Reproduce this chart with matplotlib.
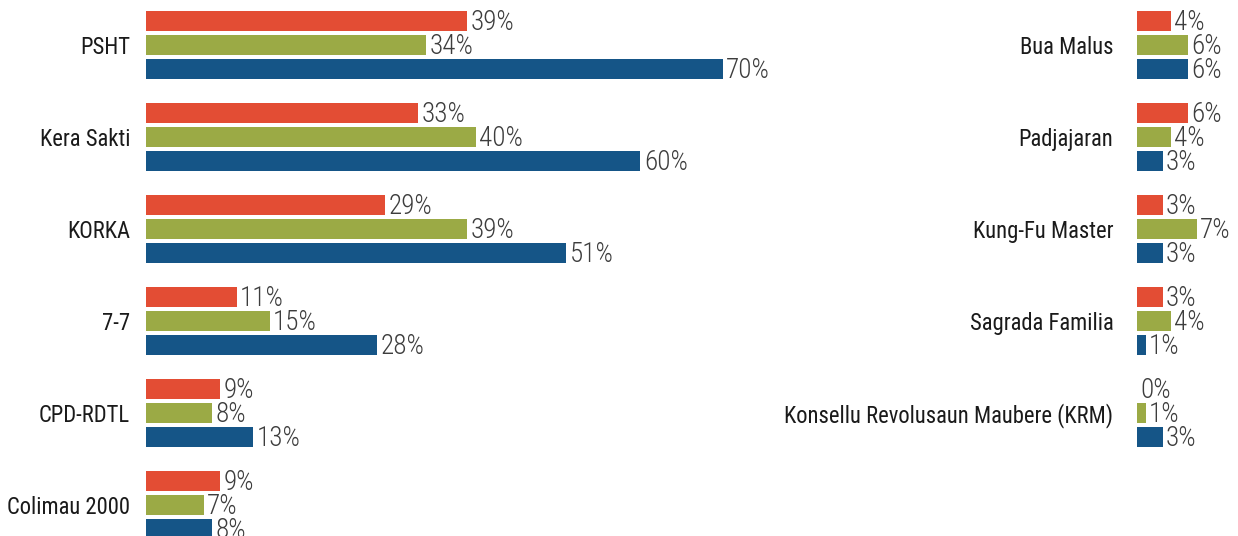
import os
import matplotlib
matplotlib.use("Agg")
import matplotlib.pyplot as plt
import matplotlib.font_manager as fm
import numpy as np

# left panel
left_groups = ["PSHT", "Kera Sakti", "KORKA", "7-7", "CPD-RDTL", "Colimau 2000"]
left_red = [39, 33, 29, 11, 9, 9]
left_green = [34, 40, 39, 15, 8, 7]
left_blue = [70, 60, 51, 28, 13, 8]

# right panel
right_groups = ["Bua Malus", "Padjajaran", "Kung-Fu Master", "Sagrada Familia",
                "Konsellu Revolusaun Maubere (KRM)"]
right_red = [4, 6, 3, 3, 0]
right_green = [6, 4, 7, 4, 1]
right_blue = [6, 3, 3, 1, 3]

colors = ['#E34D34', '#9BAA45', '#155587']


# the original uses a condensed face, look for one on the system
def pick(patterns):
    files = [f.fname for f in fm.fontManager.ttflist]
    for pat in patterns:
        for fn in files:
            if os.path.basename(fn).lower().startswith(pat.lower()):
                return fn
    return None


label_file = pick(['NotoSans-ExtraCondensedMedium.', 'NotoSans-ExtraCondensed.',
                   'NotoSans-CondensedMedium.', 'NotoSans-Condensed.',
                   'RobotoCondensed-Regular', 'LiberationSansNarrow-Regular',
                   'DejaVuSansCondensed.'])
value_file = pick(['NotoSans-ExtraCondensedLight.', 'NotoSans-ExtraCondensed.',
                   'NotoSans-CondensedLight.', 'NotoSans-Condensed.',
                   'RobotoCondensed-Light', 'LiberationSansNarrow-Regular',
                   'DejaVuSansCondensed.'])

if label_file:
    label_font = fm.FontProperties(fname=label_file, size=16.3)
else:
    label_font = fm.FontProperties(family='DejaVu Sans', size=14)
if value_file:
    value_font = fm.FontProperties(fname=value_file, size=19.5)
else:
    value_font = fm.FontProperties(family='DejaVu Sans', size=14)

W, H = 1238, 536
fig = plt.figure(figsize=(W / 100, H / 100), dpi=100)

pitch = 92.0
bar_h = 20 / pitch
step = 24 / pitch
ylim = ((H - 45) / pitch, -45 / pitch)


def draw(ax, groups, red, green, blue, pad):
    y = np.arange(len(groups))
    for k, (vals, c) in enumerate(zip([red, green, blue], colors)):
        pos = y + (k - 1) * step
        ax.barh(pos, vals, height=bar_h, color=c)
        for p, v in zip(pos, vals):
            ax.annotate(f"{v}%", (v, p), xytext=(2.5, -1), textcoords='offset points',
                        ha='left', va='center', fontproperties=value_font,
                        color='#3d3d3d')
    ax.set_yticks(y)
    ax.set_yticklabels(groups, fontproperties=label_font, color='#1a1a1a')
    ax.tick_params(axis='y', length=0, pad=pad)
    ax.set_xticks([])
    ax.set_ylim(*ylim)
    for s in ax.spines.values():
        s.set_visible(False)


ax1 = fig.add_axes([146 / W, 0, (800 - 146) / W, 1])
ax1.set_xlim(0, (800 - 146) / 8.24)
draw(ax1, left_groups, left_red, left_green, left_blue, 11.5)

ax2 = fig.add_axes([1137 / W, 0, (W - 1137) / W, 1])
ax2.set_xlim(0, (W - 1137) / 8.5)
draw(ax2, right_groups, right_red, right_green, right_blue, 17)

fig.savefig("out.png", dpi=100)
